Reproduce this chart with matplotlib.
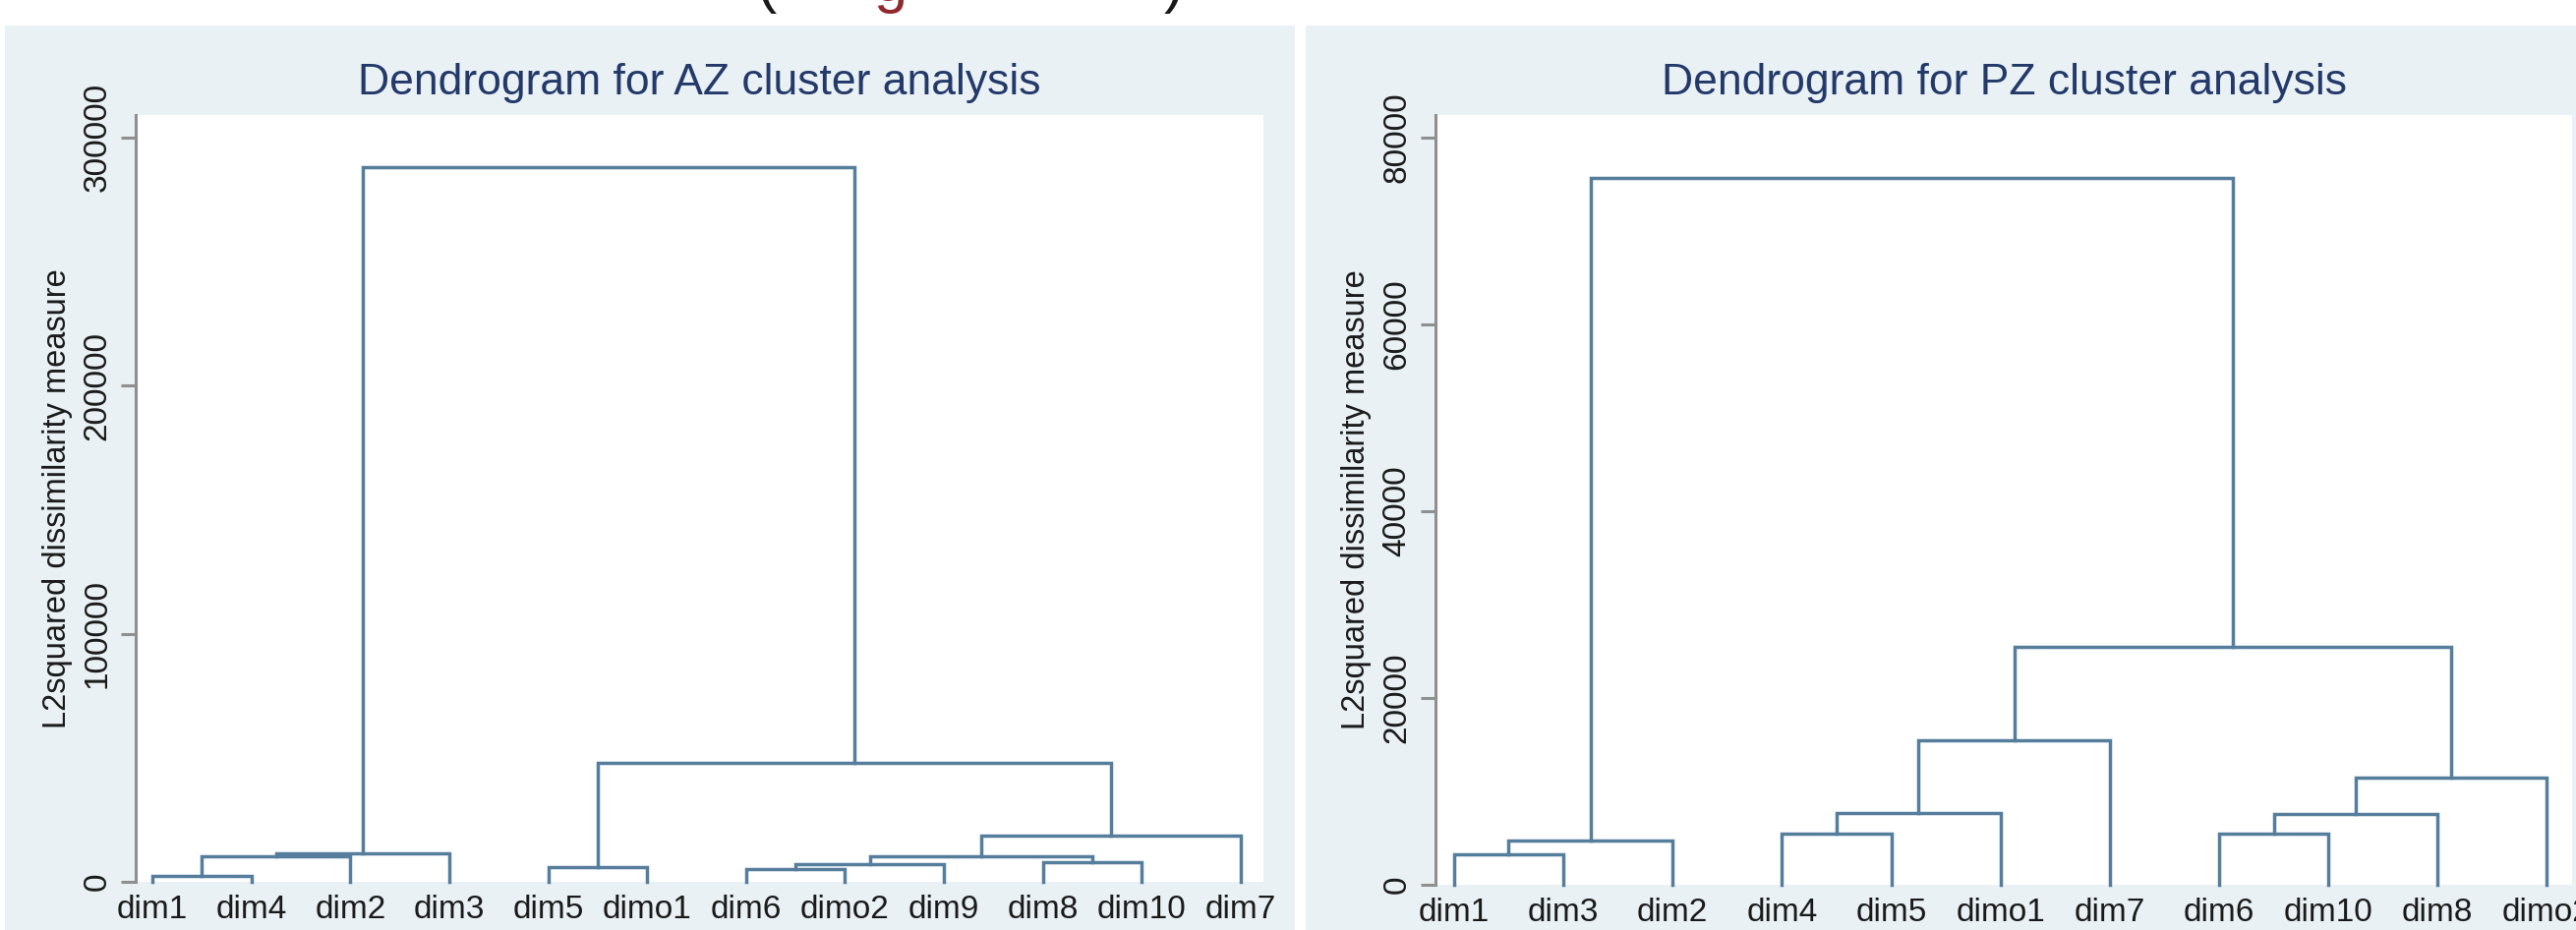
import matplotlib
matplotlib.use('Agg')
import matplotlib.pyplot as plt
from matplotlib.patches import Rectangle

# AZ dendrogram: leaf order and merges (child a, child b, height)
# children >= len(leaves) refer to earlier merges
az_leaves = ['dim1', 'dim4', 'dim2', 'dim3', 'dim5', 'dimo1',
             'dim6', 'dimo2', 'dim9', 'dim8', 'dim10', 'dim7']
az_merges = [
    (0, 1, 2400),
    (12, 2, 10200),
    (13, 3, 11500),
    (4, 5, 5900),
    (6, 7, 5200),
    (16, 8, 7000),
    (9, 10, 8000),
    (17, 18, 10400),
    (19, 11, 18500),
    (15, 20, 47800),
    (14, 21, 288000),
]
az_yticks = [0, 100000, 200000, 300000]

# PZ dendrogram
pz_leaves = ['dim1', 'dim3', 'dim2', 'dim4', 'dim5', 'dimo1', 'dim7',
             'dim6', 'dim10', 'dim8', 'dimo2']
pz_merges = [
    (0, 1, 3300),
    (11, 2, 4700),
    (3, 4, 5500),
    (13, 5, 7700),
    (14, 6, 15500),
    (7, 8, 5500),
    (16, 9, 7600),
    (17, 10, 11500),
    (15, 18, 25500),
    (12, 19, 75700),
]
pz_yticks = [0, 20000, 40000, 60000, 80000]

BG = '#eaf1f4'
LINE = '#557d9c'
AXIS = '#8f8f8f'
TITLE = '#22396a'

plt.rcParams['font.family'] = ['Liberation Sans', 'DejaVu Sans']

W, H = 2620, 946
fig = plt.figure(figsize=(W / 100, H / 100), dpi=100)


def px_rect(x0, y0, x1, y1):
    # pixel box (top-left origin) -> figure fraction rect
    return [x0 / W, 1 - y1 / H, (x1 - x0) / W, (y1 - y0) / H]


# panel backgrounds
for x0, x1 in [(5, 1317), (1328, 2620)]:
    r = px_rect(x0, 26, x1, 946)
    fig.patches.append(Rectangle((r[0], r[1]), r[2], r[3], transform=fig.transFigure,
                                 facecolor=BG, edgecolor='none', zorder=-5))


def draw_dendrogram(ax, leaves, merges):
    xs = list(range(1, len(leaves) + 1))
    hs = [0] * len(leaves)
    for a, b, h in merges:
        ax.plot([xs[a], xs[a], xs[b], xs[b]], [hs[a], h, h, hs[b]],
                color=LINE, lw=2.5, solid_joinstyle='miter', clip_on=False)
        xs.append((xs[a] + xs[b]) / 2)
        hs.append(h)


def style(ax, leaves, yticks, ymax, title):
    n = len(leaves)
    ax.set_facecolor('white')
    ax.set_xlim(0.83, n + 0.23)
    ax.set_ylim(0, ymax)
    for s in ['top', 'right', 'bottom']:
        ax.spines[s].set_visible(False)
    ax.spines['left'].set_color(AXIS)
    ax.spines['left'].set_linewidth(2.2)
    ax.set_xticks(range(1, n + 1))
    ax.set_xticklabels(leaves, fontsize=24, color='#1a1a1a')
    ax.tick_params(axis='x', length=0, pad=9)
    ax.set_yticks(yticks)
    ax.set_yticklabels([str(v) for v in yticks], rotation=90, va='center',
                       fontsize=24, color='#1a1a1a')
    ax.tick_params(axis='y', length=11, width=2.2, color=AXIS, pad=6)
    ax.set_ylabel('L2squared dissimilarity measure', fontsize=23.5, color='#1a1a1a')
    ax.yaxis.set_label_coords(-0.056, 0.5)
    ax.set_title(title, fontsize=32, color=TITLE, pad=15)


ax1 = fig.add_axes(px_rect(138, 117, 1285, 897))
draw_dendrogram(ax1, az_leaves, az_merges)
style(ax1, az_leaves, az_yticks, 309000, 'Dendrogram for AZ cluster analysis')

ax2 = fig.add_axes(px_rect(1460, 117, 2616, 900))
draw_dendrogram(ax2, pz_leaves, pz_merges)
style(ax2, pz_leaves, pz_yticks, 82400, 'Dendrogram for PZ cluster analysis')

# bits of a caption cut off at the top edge
fig.text(779 / W, 1 - 1 / H, '(', fontsize=44, color='#1a1a1a', ha='center', va='baseline')
fig.text(905 / W, 1 - 1 / H, 'g', fontsize=44, color='#8e2a2e', ha='center', va='baseline')
fig.text(1194 / W, 1 - 1 / H, ')', fontsize=44, color='#1a1a1a', ha='center', va='baseline')

fig.savefig('out.png', dpi=100, facecolor='white')
